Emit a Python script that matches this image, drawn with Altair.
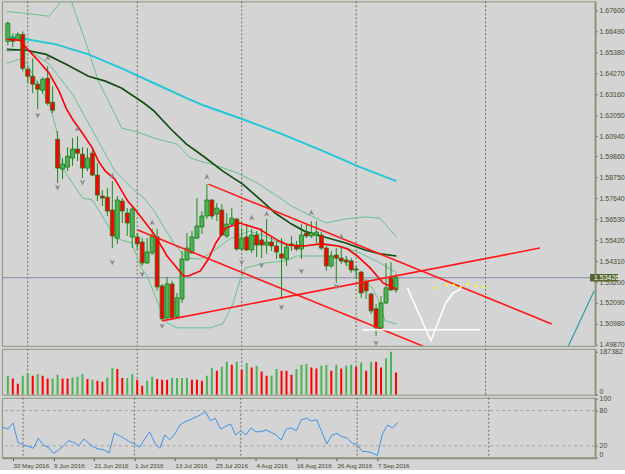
import altair as alt
import pandas as pd

# ---------------- data ----------------
date_ticks = [2, 10, 18, 26, 34, 42, 50, 58, 66, 74]
date_labels = ["30 May 2016", "9 Jun 2016", "21 Jun 2016", "1 Jul 2016", "13 Jul 2016",
               "25 Jul 2016", "4 Aug 2016", "16 Aug 2016", "26 Aug 2016", "7 Sep 2016"]
month_lines = [4, 26, 47, 70, 96]
price_ticks = [1.676, 1.6649, 1.6538, 1.6427, 1.6316, 1.6205, 1.6094, 1.5986, 1.5875,
               1.5764, 1.5653, 1.5542, 1.5431, 1.532, 1.5209, 1.5098, 1.4987]
last_price = 1.53426

opens = [1.6596, 1.6612, 1.6602, 1.6633, 1.6448, 1.6411, 1.6369, 1.6337, 1.6400, 1.6273,
         1.6077, 1.5919, 1.5929, 1.5977, 1.6025, 1.5998, 1.5924, 1.6003, 1.5887, 1.5776,
         1.5770, 1.5702, 1.5553, 1.5749, 1.5686, 1.5559, 1.5559, 1.5532, 1.5421, 1.5474,
         1.5559, 1.5299, 1.5130, 1.5310, 1.5135, 1.5230, 1.5437, 1.5474, 1.5553, 1.5612,
         1.5670, 1.5755, 1.5680, 1.5702, 1.5564, 1.5627, 1.5654, 1.5495, 1.5559, 1.5490,
         1.5569, 1.5543, 1.5516, 1.5532, 1.5511, 1.5469, 1.5442, 1.5522, 1.5511, 1.5495,
         1.5580, 1.5564, 1.5569, 1.5569, 1.5500, 1.5405, 1.5463, 1.5447, 1.5437, 1.5432,
         1.5389, 1.5373, 1.5321, 1.5257, 1.5178, 1.5077, 1.5209, 1.5342, 1.5278]
highs = [1.6702, 1.6639, 1.6644, 1.6649, 1.6459, 1.6506, 1.6385, 1.6406, 1.6464, 1.6358,
         1.6120, 1.5977, 1.6035, 1.6083, 1.6093, 1.6035, 1.6030, 1.6030, 1.5950, 1.5807,
         1.5818, 1.5855, 1.5776, 1.5765, 1.5712, 1.5723, 1.5580, 1.5553, 1.5553, 1.5601,
         1.5601, 1.5310, 1.5347, 1.5326, 1.5262, 1.5485, 1.5580, 1.5590, 1.5765, 1.5696,
         1.5839, 1.5760, 1.5739, 1.5733, 1.5686, 1.5712, 1.5659, 1.5606, 1.5627, 1.5601,
         1.5590, 1.5606, 1.5654, 1.5564, 1.5537, 1.5553, 1.5522, 1.5564, 1.5537, 1.5627,
         1.5627, 1.5643, 1.5643, 1.5585, 1.5511, 1.5485, 1.5500, 1.5500, 1.5458, 1.5447,
         1.5405, 1.5379, 1.5336, 1.5262, 1.5204, 1.5246, 1.5421, 1.5426, 1.5363]
lows = [1.6575, 1.6565, 1.6596, 1.6437, 1.6374, 1.6321, 1.6236, 1.6321, 1.6257, 1.6215,
        1.5845, 1.5866, 1.5908, 1.5935, 1.5961, 1.5871, 1.5908, 1.5882, 1.5749, 1.5723,
        1.5670, 1.5500, 1.5522, 1.5633, 1.5564, 1.5500, 1.5495, 1.5405, 1.5416, 1.5463,
        1.5273, 1.5114, 1.5125, 1.5125, 1.5130, 1.5209, 1.5432, 1.5469, 1.5548, 1.5574,
        1.5654, 1.5654, 1.5643, 1.5564, 1.5553, 1.5617, 1.5485, 1.5485, 1.5485, 1.5474,
        1.5453, 1.5447, 1.5469, 1.5485, 1.5442, 1.5230, 1.5405, 1.5485, 1.5485, 1.5442,
        1.5553, 1.5553, 1.5527, 1.5490, 1.5379, 1.5395, 1.5315, 1.5416, 1.5405, 1.5369,
        1.5336, 1.5236, 1.5230, 1.5151, 1.5035, 1.5072, 1.5204, 1.5273, 1.5262]
closes = [1.6692, 1.6596, 1.6633, 1.6453, 1.6411, 1.6369, 1.6342, 1.6395, 1.6268, 1.6231,
          1.5924, 1.5945, 1.5987, 1.6025, 1.6003, 1.5924, 1.5977, 1.5887, 1.5781, 1.5765,
          1.5696, 1.5564, 1.5755, 1.5696, 1.5633, 1.5707, 1.5522, 1.5421, 1.5479, 1.5564,
          1.5294, 1.5125, 1.5310, 1.5130, 1.5236, 1.5442, 1.5500, 1.5559, 1.5617, 1.5670,
          1.5755, 1.5670, 1.5712, 1.5569, 1.5627, 1.5659, 1.5495, 1.5553, 1.5490, 1.5569,
          1.5516, 1.5516, 1.5532, 1.5511, 1.5479, 1.5447, 1.5506, 1.5511, 1.5495, 1.5569,
          1.5564, 1.5580, 1.5585, 1.5500, 1.5405, 1.5458, 1.5447, 1.5432, 1.5426, 1.5384,
          1.5384, 1.5262, 1.5273, 1.5167, 1.5077, 1.5209, 1.5289, 1.5278, 1.53426]

volumes = [82800, 71000, 47900, 82800, 92800, 82800, 90200, 82800, 71000, 71000,
           87200, 71000, 71000, 75400, 78400, 90200, 68400, 65400, 61000, 56700,
           75400, 116400, 112000, 72800, 72800, 90200, 65400, 39200, 61000, 78400,
           68400, 65400, 65400, 72800, 72800, 72800, 72800, 65400, 65400, 61000,
           82800, 116400, 104600, 122000, 143800, 130700, 143800, 108900, 138100, 119000,
           126400, 101500, 82800, 82800, 112000, 104600, 104600, 87200, 112000, 129400,
           133800, 119000, 114600, 126400, 129400, 104600, 130700, 114600, 126400, 130700,
           122000, 140800, 104600, 143800, 143800, 119000, 158200, 187382, 97200]
vol_kind = ["lg", "lr", "lr", "g", "g", "r", "g", "r", "r", "g",
            "g", "lr", "lr", "lg", "lg", "g", "r", "g", "r", "r",
            "g", "g", "r", "lr", "lg", "lg", "lr", "lr", "g", "g",
            "r", "r", "r", "g", "g", "g", "lg", "lr", "lr", "lr",
            "g", "g", "r", "g", "g", "r", "g", "r", "lg", "lr",
            "lg", "lr", "r", "g", "g", "r", "r", "r", "g", "g",
            "g", "lr", "lr", "lg", "g", "r", "g", "r", "g", "g",
            "r", "g", "r", "lg", "lr", "lr", "lg", "g", "r"]
osc = [51.4, 48.6, 58.8, 26, 21.5, 19.2, 15.8, 32.7, 21.5, 17.5,
       7.3, 13, 20.3, 28.8, 26, 20.3, 31.6, 24.3, 17.5, 14.7,
       13, 7.9, 41.8, 37.3, 32.7, 27.1, 23.2, 17.5, 31.6, 44,
       24.9, 15.8, 38.4, 30.5, 40.1, 55.4, 61, 64.4, 68.4, 72.3,
       78, 62.7, 66.7, 48.6, 53, 57, 38.4, 45.8, 38.4, 50.3,
       44, 44, 46.9, 42.9, 38.4, 29.9, 48.6, 50.3, 45.8, 64.4,
       66.7, 62.1, 64.4, 44, 23.2, 38.4, 41.2, 35.6, 33.3, 24.9,
       22, 10.7, 10.2, 7.9, 3.4, 40.1, 55.4, 50.3, 59.8]

# moving averages / bands: (bar index, price) vertices
red_ma_i = [-0.2, 2.4, 3.8, 5.7, 8.3, 10.3, 11.7, 13.0, 15.0, 17.0, 18.2, 19.6, 21.5, 22.1, 24.1, 25.5,
            29.4, 32.0, 35.3, 36.3, 38.7, 40.3, 41.8, 43.8, 46.6, 50.5, 54.5, 56.4, 59.6, 62.9, 66.3,
            68.3, 70.2, 72.8, 75.4, 78.1]
red_ma_p = [1.6607, 1.6602, 1.6559, 1.6506, 1.6427, 1.6332, 1.6242, 1.6183, 1.6109, 1.6030, 1.5961,
            1.5908, 1.5866, 1.5839, 1.5749, 1.5707, 1.5574, 1.5458, 1.5352, 1.5352, 1.5379, 1.5442,
            1.5527, 1.5606, 1.5633, 1.5601, 1.5537, 1.5516, 1.5511, 1.5522, 1.5511, 1.5495, 1.5458,
            1.5395, 1.5315, 1.5283]
slow_ma_i = [-0.2, 3.8, 7.7, 11.7, 16.2, 19.6, 22.9, 27.4, 29.4, 32.8, 35.9, 39.3, 43.2, 47.2, 51.1,
             53.7, 57.0, 59.6, 62.9, 67.9, 71.8, 74.8, 78.1]
slow_ma_p = [1.6554, 1.6549, 1.6527, 1.6475, 1.6411, 1.6385, 1.6347, 1.6268, 1.6226, 1.6130, 1.6051,
             1.5987, 1.5908, 1.5839, 1.5749, 1.5686, 1.5627, 1.5590, 1.5564, 1.5527, 1.5490, 1.5469,
             1.5458]
long_ma_i = [-0.2, 3.8, 9.7, 16.2, 22.9, 29.4, 35.9, 39.3, 47.2, 55.1, 62.9, 70.8, 78.1]
long_ma_p = [1.6623, 1.6607, 1.6580, 1.6527, 1.6453, 1.6374, 1.6295, 1.6257, 1.6183, 1.6104, 1.6019,
             1.5929, 1.5855]
bb_up_i = [-0.2, 3.8, 8.3, 10.1, 11.1, 12.5, 13.6, 15.6, 18.2, 20.9, 22.9, 26.1, 29.4, 34.0, 36.7,
           39.3, 42.2, 46.2, 50.1, 54.1, 57.0, 61.0, 63.9, 67.9, 71.8, 74.8, 78.1]
bb_up_p = [1.6755, 1.6744, 1.6729, 1.6787, 1.6829, 1.6829, 1.6744, 1.6596, 1.6385, 1.6242, 1.6136,
           1.6115, 1.6083, 1.6051, 1.5977, 1.5956, 1.5935, 1.5897, 1.5845, 1.5776, 1.5723, 1.5670,
           1.5633, 1.5654, 1.5665, 1.5659, 1.5559]
bb_mid_i = [-0.2, 3.8, 8.3, 13.0, 18.2, 21.5, 24.9, 27.4, 29.4, 33.4, 35.9, 38.7, 41.3, 44.6, 48.5,
            51.7, 55.1, 59.0, 62.9, 66.9, 70.8, 74.8, 78.1]
bb_mid_p = [1.6543, 1.6559, 1.6475, 1.6316, 1.6067, 1.5908, 1.5818, 1.5765, 1.5696, 1.5522, 1.5447,
            1.5442, 1.5485, 1.5548, 1.5590, 1.5564, 1.5522, 1.5506, 1.5527, 1.5511, 1.5474, 1.5421,
            1.5369]
bb_low_i = [-0.2, 2.2, 3.8, 5.7, 8.3, 9.7, 10.7, 11.1, 15.0, 17.0, 19.6, 21.5, 24.9, 26.8, 28.0,
            30.8, 32.0, 34.0, 40.7, 43.2, 45.2, 46.6, 47.8, 51.7, 56.0, 58.0, 65.3, 67.9, 71.2,
            73.2, 74.4, 75.8, 78.1]
bb_low_p = [1.6480, 1.6501, 1.6480, 1.6385, 1.6263, 1.6136, 1.5961, 1.5919, 1.5765, 1.5755, 1.5643,
            1.5553, 1.5527, 1.5395, 1.5352, 1.5167, 1.5103, 1.5077, 1.5077, 1.5098, 1.5204, 1.5326,
            1.5395, 1.5421, 1.5432, 1.5458, 1.5458, 1.5421, 1.5342, 1.5289, 1.5230, 1.5114, 1.5098]

# drawn objects
chan_top_i, chan_top_p = [40.3, 109.3], [1.5839, 1.5098]
chan_low_i, chan_low_p = [26.1, 86.6], [1.5596, 1.4946]
support_i, support_p = [31.0, 106.9], [1.5114, 1.5500]
teal_i, teal_p = [112.3, 117.8], [1.4961, 1.5273]
white_h_i, white_h_p = [71.2, 94.9], [1.5067, 1.5067]
white_z_i = [80.3, 85.0, 88.0, 89.5, 91.0]
white_z_p = [1.5289, 1.5008, 1.5209, 1.5262, 1.5283]
yellow_i = [86.0, 88.2, 89.6, 91.0, 92.4, 94.0, 95.6]
yellow_p = [1.5289, 1.5304, 1.5304, 1.5294, 1.5310, 1.5299, 1.5294]

frac_up_i = [8, 14, 21, 29, 40, 49, 52, 61, 67]
frac_up_p = [1.6506, 1.6130, 1.5882, 1.5633, 1.5876, 1.5659, 1.5680, 1.5686, 1.5559]
frac_dn_i = [6, 10, 15, 21, 27, 31, 47, 51, 55, 59, 66, 74]
frac_dn_p = [1.6205, 1.5823, 1.5850, 1.5426, 1.5363, 1.5088, 1.5426, 1.5410, 1.5188, 1.5379,
             1.5299, 1.4998]

# ---------------- chart ----------------
N = len(opens)
idx = list(range(N))
W = 594
LABEL = "#4a4a30"
AXC = "#8c957c"
FONT = "Liberation Sans"

XS = alt.Scale(domain=[-0.17, 117.0], nice=False, zero=False)
PS = alt.Scale(domain=[1.49817, 1.6808], nice=False, zero=False)
VS = alt.Scale(domain=[0, 200456], nice=False, zero=True)
OS = alt.Scale(domain=[0, 101.7], nice=False, zero=True)

label_expr = "[" + ",".join("'%s'" % s for s in date_labels) + "][(datum.value-2)/8]"
ax_date = alt.Axis(title=None, values=date_ticks, labelExpr=label_expr, grid=False,
                   labelAlign="left", labelBaseline="top", labelFontSize=6.2, labelFont=FONT,
                   labelColor=LABEL, labelPadding=2, tickSize=3, tickColor=LABEL,
                   domainColor=AXC, domainWidth=2, labelOverlap=False, labelFlush=False)


def right_axis(values, fmt, flush):
    return alt.Axis(title=None, orient="right", values=values, format=fmt, grid=False,
                    labelFontSize=7, labelFont=FONT, labelColor=LABEL, labelPadding=2,
                    tickSize=2, tickColor=LABEL, domainColor=AXC, domainWidth=2,
                    labelOverlap=False, labelFlush=flush)


ax_price = right_axis(price_ticks, ".5f", False)
ax_vol = right_axis([0, 187382], "d", True)
ax_osc = right_axis([0, 20, 80, 100], "d", True)


def X(field="i", axis=None):
    return alt.X(f"{field}:Q", scale=XS, axis=axis)


def P(field="p"):
    return alt.Y(f"{field}:Q", scale=PS, axis=ax_price)


def pline(i_list, p_list, color, width):
    df = pd.DataFrame({"i": i_list, "p": p_list, "k": list(range(len(i_list)))})
    return alt.Chart(df).mark_line(color=color, strokeWidth=width, clip=True).encode(
        x=X(), y=P(), order="k:Q")


candles = pd.DataFrame({"i": idx, "o": opens, "h": highs, "l": lows, "c": closes})
candles["dir"] = ["up" if c >= o else "down" for o, c in zip(opens, closes)]

grid_main = alt.Chart(pd.DataFrame({"i": month_lines})).mark_rule(
    color="#6e6e58", strokeDash=[2, 2], strokeWidth=1).encode(x=X())
cur_line = alt.Chart(pd.DataFrame({"p": [last_price]})).mark_rule(
    color="#7f8fa6", strokeWidth=1).encode(y=P())
wicks = alt.Chart(candles).mark_rule(color="#1b8a1b", strokeWidth=1, clip=True).encode(
    x=X(), y=P("l"), y2="h")
bodies = alt.Chart(candles).mark_bar(size=4, stroke="#1b7a1b", strokeWidth=0.8, clip=True).encode(
    x=X(), y=P("o"), y2="c",
    color=alt.Color("dir:N", scale=alt.Scale(domain=["up", "down"], range=["#4bb352", "#ff0000"]),
                    legend=None))

up_shape = "M0,-1L0.8,0.7L0,0.25L-0.8,0.7Z"
dn_shape = "M0,1L0.8,-0.7L0,-0.25L-0.8,-0.7Z"
fr_up = alt.Chart(pd.DataFrame({"i": frac_up_i, "p": frac_up_p})).mark_point(
    shape=up_shape, filled=True, size=45, color="#8a8a8a", opacity=1).encode(x=X(), y=P())
fr_dn = alt.Chart(pd.DataFrame({"i": frac_dn_i, "p": frac_dn_p})).mark_point(
    shape=dn_shape, filled=True, size=45, color="#8a8a8a", opacity=1).encode(x=X(), y=P())

yellow = alt.Chart(pd.DataFrame({"i": yellow_i, "p": yellow_p})).mark_point(
    filled=True, size=6, color="#ffff00", opacity=1, clip=True).encode(x=X(), y=P())

box = alt.Chart(pd.DataFrame({"i": [117.0], "i2": [122.6], "p": [last_price - 0.002],
                              "p2": [last_price + 0.002]})).mark_rect(color="#53652c").encode(
    x=X(), x2="i2", y=P(), y2="p2")
box_txt = alt.Chart(pd.DataFrame({"i": [117.8], "p": [last_price], "t": ["1.53426"]})).mark_text(
    align="left", baseline="middle", fontSize=7, font=FONT, color="#ffffff").encode(
    x=X(), y=P(), text="t:N")

main = alt.layer(
    grid_main, cur_line,
    pline(bb_up_i, bb_up_p, "#66c08f", 1),
    pline(bb_mid_i, bb_mid_p, "#66c08f", 1),
    pline(bb_low_i, bb_low_p, "#66c08f", 1),
    pline(long_ma_i, long_ma_p, "#22c8d8", 2),
    pline(slow_ma_i, slow_ma_p, "#124d12", 1.7),
    wicks, bodies,
    pline(red_ma_i, red_ma_p, "#ff0000", 1.6),
    pline(chan_top_i, chan_top_p, "#ff1a1a", 1.6),
    pline(chan_low_i, chan_low_p, "#ff1a1a", 1.6),
    pline(support_i, support_p, "#ff1a1a", 1.6),
    pline(teal_i, teal_p, "#2a9fa0", 1.2),
    pline(white_h_i, white_h_p, "#ffffff", 1.5),
    pline(white_z_i, white_z_p, "#ffffff", 1.5),
    yellow, fr_up, fr_dn, box, box_txt,
).properties(width=W, height=345)

# volume panel
voldf = pd.DataFrame({"i": idx, "v": volumes, "k": vol_kind})
grid_vol = alt.Chart(pd.DataFrame({"i": month_lines})).mark_rule(
    color="#6e6e58", strokeDash=[2, 2], strokeWidth=1).encode(x=X())
vbars = alt.Chart(voldf).mark_bar(size=2, clip=True).encode(
    x=X(), y=alt.Y("v:Q", scale=VS, axis=ax_vol),
    color=alt.Color("k:N", scale=alt.Scale(domain=["g", "r", "lg", "lr"],
                                           range=["#1f9a1f", "#ee1c1c", "#7cc47c", "#f08a8a"]),
                    legend=None))
vol = alt.layer(grid_vol, vbars).properties(width=W, height=46)

# oscillator panel
oscdf = pd.DataFrame({"i": idx, "s": osc})
grid_osc = alt.Chart(pd.DataFrame({"i": month_lines})).mark_rule(
    color="#6e6e58", strokeDash=[2, 2], strokeWidth=1).encode(x=X(axis=ax_date))
levels = alt.Chart(pd.DataFrame({"s": [20, 80]})).mark_rule(
    color="#a2a2a2", strokeDash=[3, 3], strokeWidth=1).encode(
    y=alt.Y("s:Q", scale=OS, axis=ax_osc))
oline = alt.Chart(oscdf).mark_line(color="#3d93e8", strokeWidth=1).encode(
    x=X(axis=ax_date), y=alt.Y("s:Q", scale=OS, axis=ax_osc))
oscc = alt.layer(grid_osc, levels, oline).properties(width=W, height=60)

chart = alt.vconcat(main, vol, oscc, spacing=3, padding=0, bounds="flush").configure(
    background="#d4d4d4").configure_view(stroke=AXC, strokeWidth=1)

chart.save("out.html", embed_options={"renderer": "svg", "actions": False})
